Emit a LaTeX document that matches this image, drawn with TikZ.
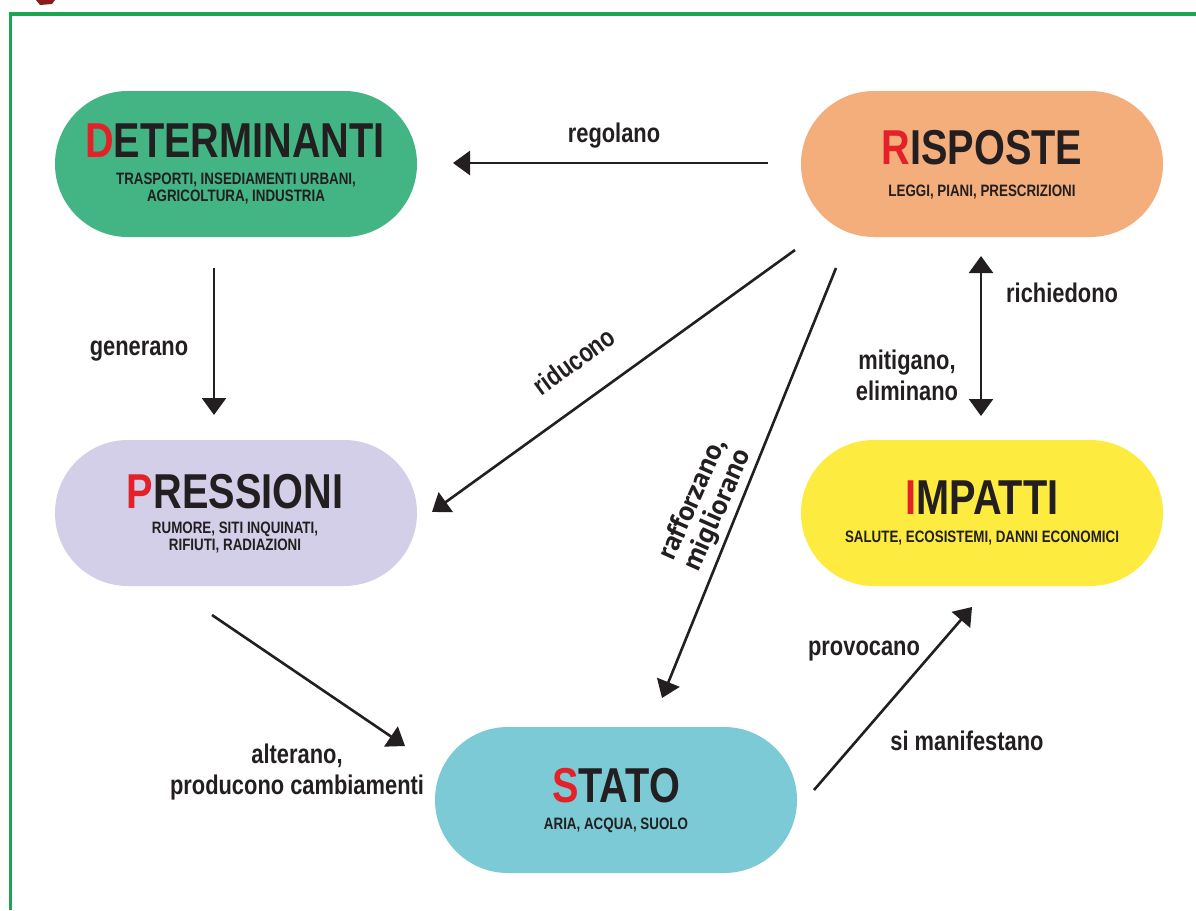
\documentclass[tikz,border=0pt]{standalone}
\usepackage{fontspec}
\newfontfamily\nf{Liberation Sans}[FakeStretch=0.81]
\newfontfamily\hf{PT Sans}
\usetikzlibrary{arrows.meta}
\definecolor{ink}{HTML}{231F20}
\definecolor{tred}{HTML}{E42128}
\definecolor{frame}{HTML}{1DA650}
\definecolor{cdet}{HTML}{43B584}
\definecolor{cris}{HTML}{F3AE7C}
\definecolor{cpre}{HTML}{D3CFE8}
\definecolor{cimp}{HTML}{FEEB3F}
\definecolor{csta}{HTML}{7CCAD5}
\definecolor{logo}{HTML}{8B1A1A}
\tikzset{
  box/.style={rectangle, rounded corners=72.9pt, minimum width=362pt, minimum height=146pt, inner sep=0pt},
  ttl/.style={font=\nf\bfseries\fontsize{49}{49}\selectfont, text=ink, anchor=base, inner sep=0pt},
  sub/.style={font=\nf\bfseries\fontsize{16.5}{16.5}\selectfont, text=ink, anchor=base, inner sep=0pt},
  lbl/.style={font=\nf\bfseries\fontsize{27}{31}\selectfont, text=ink, inner sep=0pt, align=center},
  hlbl/.style={font=\hf\bfseries\fontsize{28}{27}\selectfont, text=ink, inner sep=0pt, align=center},
  arr/.style={line width=2.6pt, draw=ink, -{Triangle[length=17pt,width=24pt]}},
  darr/.style={line width=2.6pt, draw=ink, {Triangle[length=17pt,width=24pt]}-{Triangle[length=17pt,width=24pt]}}
}
\begin{document}
\begin{tikzpicture}[x=1pt,y=-1pt]
\useasboundingbox (0,0) rectangle (1196,910);
\fill[white] (0,0) rectangle (1196,910);
% logo fragment
\fill[logo] (36,0) -- (55,0) -- (52,4) -- (40,5) -- cycle;
% frame
\draw[frame, line width=3.6pt] (10.3,910) -- (10.3,13.7) -- (1196,13.7);

% boxes
\node[box, fill=cdet] (det) at (236,164) {};
\node[box, fill=cris] (ris) at (982,164) {};
\node[box, fill=cpre] (pre) at (236,513) {};
\node[box, fill=cimp] (imp) at (982,513) {};
\node[box, fill=csta] (sta) at (616,800) {};

% titles and subtitles
\node[ttl] (det-t) at (235,157) {\textcolor{tred}{D}ETERMINANTI};
\node[sub] (det-s1) at (236,184) {TRASPORTI, INSEDIAMENTI URBANI,};
\node[sub] (det-s2) at (236,201) {AGRICOLTURA, INDUSTRIA};

\node[ttl] (ris-t) at (982,164) {\textcolor{tred}{R}ISPOSTE};
\node[sub] (ris-s) at (982,196) {LEGGI, PIANI, PRESCRIZIONI};

\node[ttl] (pre-t) at (235,508) {\textcolor{tred}{P}RESSIONI};
\node[sub] (pre-s1) at (235,533) {RUMORE, SITI INQUINATI,};
\node[sub] (pre-s2) at (235,550) {RIFIUTI, RADIAZIONI};

\node[ttl] (imp-t) at (982,514) {\textcolor{tred}{I}MPATTI};
\node[sub] (imp-s) at (982,542) {SALUTE, ECOSISTEMI, DANNI ECONOMICI};

\node[ttl] (sta-t) at (616,802) {\textcolor{tred}{S}TATO};
\node[sub] (sta-s) at (616,829) {ARIA, ACQUA, SUOLO};

% connector end points
\coordinate (regA) at (768,163);
\coordinate (regB) at (453,163);
\coordinate (genA) at (214,268);
\coordinate (genB) at (214,415);
\coordinate (ricA) at (981,256);
\coordinate (ricB) at (981,416);
\coordinate (ridA) at (795,250);
\coordinate (ridB) at (432,512);
\coordinate (rafA) at (836,268);
\coordinate (rafB) at (662,698);
\coordinate (altA) at (212,615);
\coordinate (altB) at (405,746);
\coordinate (proA) at (814,790);
\coordinate (proB) at (972,607);

\draw[arr] (regA) -- (regB);
\draw[arr] (genA) -- (genB);
\draw[darr] (ricA) -- (ricB);
\draw[arr] (ridA) -- (ridB);
\draw[arr] (rafA) -- (rafB);
\draw[arr] (altA) -- (altB);
\draw[arr] (proA) -- (proB);

% labels
\node[lbl, anchor=base] (l-reg) at (614,142) {regolano};
\node[lbl, anchor=base] (l-gen) at (139,355) {generano};
\node[lbl, anchor=base west] (l-ric) at (1006,302) {richiedono};
\node[lbl] (l-mit) at (907,375) {mitigano,\\eliminano};
\node[lbl, rotate=36] (l-rid) at (574,361) {riducono};
\node[hlbl, rotate=66] (l-raf) at (706,505) {rafforzano,\\migliorano};
\node[lbl] (l-alt) at (297,772) {alterano,\\producono cambiamenti};
\node[lbl, anchor=base] (l-pro) at (864,655) {provocano};
\node[lbl, anchor=base] (l-sim) at (967,750) {si manifestano};
\end{tikzpicture}
\end{document}
